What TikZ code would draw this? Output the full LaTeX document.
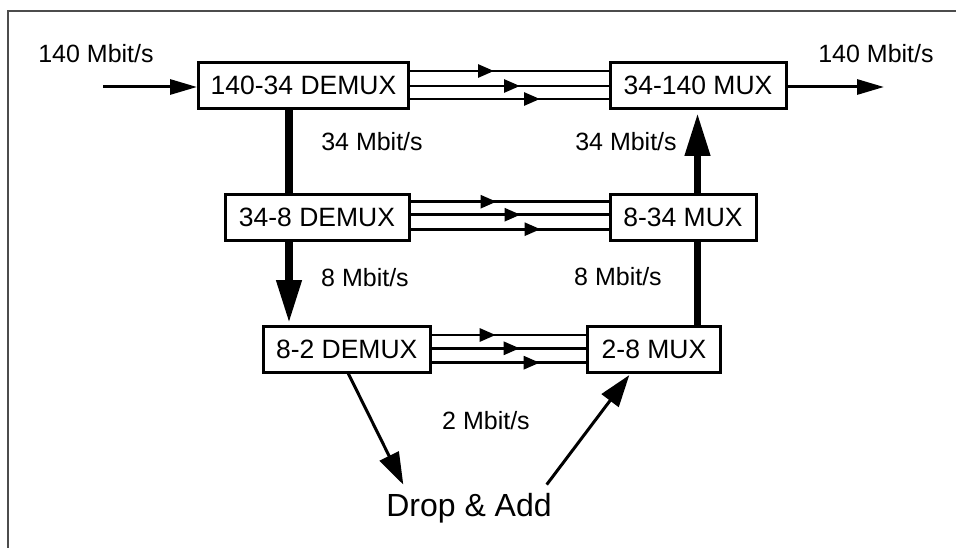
\documentclass[tikz,border=0pt]{standalone}
\usepackage{fontspec}
\setmainfont{Liberation Sans}
\usetikzlibrary{arrows.meta,decorations.markings}
\begin{document}
\begin{tikzpicture}[x=1pt,y=-1pt,
  box/.style={draw,line width=3pt,inner sep=0pt,minimum height=46pt,font=\fontsize{26.5}{30}\selectfont},
  lbl/.style={inner sep=0pt,font=\fontsize{25}{30}\selectfont},
  wire/.style={line width=2.8pt},
  par/.style={wire,postaction={decorate},decoration={markings,mark=at position #1 with {\arrow{Triangle[length=16pt,width=13pt]}}}},
  io/.style={line width=3pt,-{Triangle[length=27pt,width=15pt]}},
  fat/.style={line width=7.5pt},
  fatarrow/.style={line width=7.5pt,-{Triangle[length=43pt,width=24pt]}},
  droparrow/.style={line width=3pt,-{Triangle[length=32pt,width=21pt]}}
]
\useasboundingbox (0,0) rectangle (956,548);
\draw[line width=2.2pt,black!70] (8,548) -- (8,11) -- (956,11);

% boxes
\node[box,minimum width=210pt] (d1) at (303.5,85.5) {140-34 DEMUX};
\node[box,minimum width=176pt] (m1) at (698,85.5) {34-140 MUX};
\node[box,minimum width=184pt] (d2) at (317,217.7) {34-8 DEMUX};
\node[box,minimum width=146pt] (m2) at (683,217.7) {8-34 MUX};
\node[box,minimum width=167pt] (d3) at (346.7,349) {8-2 DEMUX};
\node[box,minimum width=133pt] (m3) at (654,349) {2-8 MUX};

% labels
\node[lbl] (in140) at (96,54) {140 Mbit/s};
\node[lbl] (out140) at (876,54) {140 Mbit/s};
\node[lbl] (l34) at (372,142) {34 Mbit/s};
\node[lbl] (r34) at (626,142) {34 Mbit/s};
\node[lbl] (l8) at (365,278) {8 Mbit/s};
\node[lbl] (r8) at (618,277) {8 Mbit/s};
\node[lbl] (l2) at (486,421) {2 Mbit/s};
\node[inner sep=8pt,anchor=base,font=\fontsize{32}{36}\selectfont] (drop) at (469,516) {Drop \& Add};

% coordinates
\coordinate (inp) at (103,87);
\coordinate (outp) at (884,87);
\coordinate (xl) at (289,0);
\coordinate (xr) at (697.5,0);
\coordinate (xe) at (348.3,0);
\coordinate (xf) at (403.3,0);
\coordinate (xg) at (546.7,0);
\coordinate (xh) at (630.5,0);

% input / output
\draw[io] (inp) -- (d1.west |- inp);
\draw[io] (m1.east |- outp) -- (outp);

% parallel lines top
\draw[par=84pt] ([yshift=14.5pt]d1.east) -- ([yshift=14.5pt]m1.west);
\draw[par=110pt] ([yshift=-0.5pt]d1.east) -- ([yshift=-0.5pt]m1.west);
\draw[par=130pt] ([yshift=-13.5pt]d1.east) -- ([yshift=-13.5pt]m1.west);
% middle
\draw[par=86pt] ([yshift=16pt]d2.east) -- ([yshift=16pt]m2.west);
\draw[par=110pt] ([yshift=3pt]d2.east) -- ([yshift=3pt]m2.west);
\draw[par=130pt] ([yshift=-11.5pt]d2.east) -- ([yshift=-11.5pt]m2.west);
% bottom
\draw[par=64pt] ([yshift=14pt]d3.east) -- ([yshift=14pt]m3.west);
\draw[par=88pt] ([yshift=0.7pt]d3.east) -- ([yshift=0.7pt]m3.west);
\draw[par=108pt] ([yshift=-13.7pt]d3.east) -- ([yshift=-13.7pt]m3.west);

% thick verticals
\draw[fat] (d1.south -| xl) -- (d2.north -| xl);
\draw[fatarrow,shorten >=1.5pt] (d2.south -| xl) -- (d3.north -| xl);
\draw[fat] (m3.north -| xr) -- (m2.south -| xr);
\draw[fatarrow,shorten >=3pt] (m2.north -| xr) -- (m1.south -| xr);

% drop & add
\draw[droparrow] (d3.south -| xe) -- (drop.north -| xf);
\draw[droparrow,shorten >=2pt] (drop.north -| xg) -- (m3.south -| xh);
\end{tikzpicture}
\end{document}
